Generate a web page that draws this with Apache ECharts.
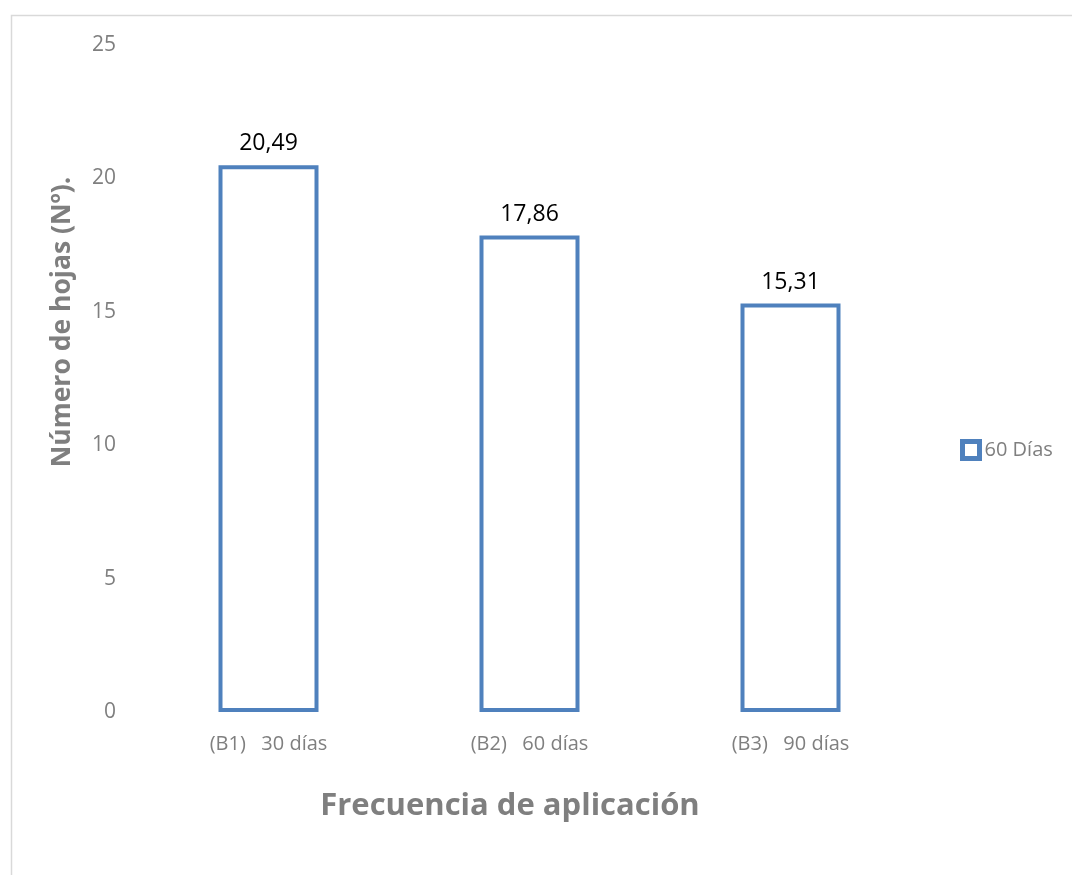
<!DOCTYPE html>
<html>
<head>
<meta charset="utf-8">
<script src="https://cdn.jsdelivr.net/npm/echarts@6/dist/echarts.min.js"></script>
<style>
  html, body { margin: 0; padding: 0; background: #fff; }
  #main { width: 1072px; height: 875px; }
</style>
</head>
<body>
<div id="main"></div>
<script>
const categories = ['(B1)   30 días', '(B2)   60 días', '(B3)   90 días'];
const values60 = [20.49, 17.86, 15.31];
const yTicks = [0, 5, 10, 15, 20, 25];

const gray = '#7f7f7f';
const blue = '#4f81bd';
const font = 'Open Sans';

const myChart = echarts.init(document.getElementById('main'));

const option = {
  backgroundColor: '#fff',
  animation: false,
  textStyle: { fontFamily: font },
  grid: { left: 138, right: 151, top: 45, bottom: 163 },
  legend: {
    data: ['60 Días'],
    orient: 'vertical',
    left: 960,
    top: 439,
    padding: 0,
    icon: 'rect',
    itemWidth: 17,
    itemHeight: 17,
    itemStyle: { color: '#fff', borderColor: blue, borderWidth: 5 },
    textStyle: { color: gray, fontSize: 20, fontFamily: font }
  },
  xAxis: {
    type: 'category',
    data: categories,
    axisLine: { show: false },
    axisTick: { show: false },
    axisLabel: { color: gray, fontSize: 20, margin: 22 }
  },
  yAxis: {
    type: 'value',
    min: yTicks[0],
    max: yTicks[yTicks.length - 1],
    interval: 5,
    splitLine: { show: false },
    axisLine: { show: false },
    axisTick: { show: false },
    axisLabel: { color: gray, fontSize: 21, margin: 22 }
  },
  series: [
    {
      name: '60 Días',
      type: 'bar',
      data: values60,
      barWidth: 100,
      itemStyle: { color: '#fff', borderColor: blue, borderWidth: 4 },
      label: {
        show: true,
        position: 'top',
        distance: 10,
        color: '#000',
        fontSize: 23,
        formatter: p => p.value.toFixed(2).replace('.', ',')
      }
    }
  ],
  graphic: [
    {
      type: 'rect',
      shape: { x: 11.5, y: 15.5, width: 1100, height: 900 },
      style: { fill: 'none', stroke: '#d9d9d9', lineWidth: 1.5 },
      silent: true
    },
    {
      type: 'text',
      x: 62,
      y: 322,
      rotation: Math.PI / 2,
      style: {
        text: 'Número de hojas (Nº).',
        fill: gray,
        font: 'bold 26.5px "Open Sans"',
        align: 'center',
        verticalAlign: 'middle'
      }
    },
    {
      type: 'text',
      x: 510,
      y: 806,
      style: {
        text: 'Frecuencia de aplicación',
        fill: gray,
        font: 'bold 31px "Open Sans"',
        align: 'center',
        verticalAlign: 'middle'
      }
    }
  ]
};

myChart.setOption(option);
</script>
</body>
</html>
